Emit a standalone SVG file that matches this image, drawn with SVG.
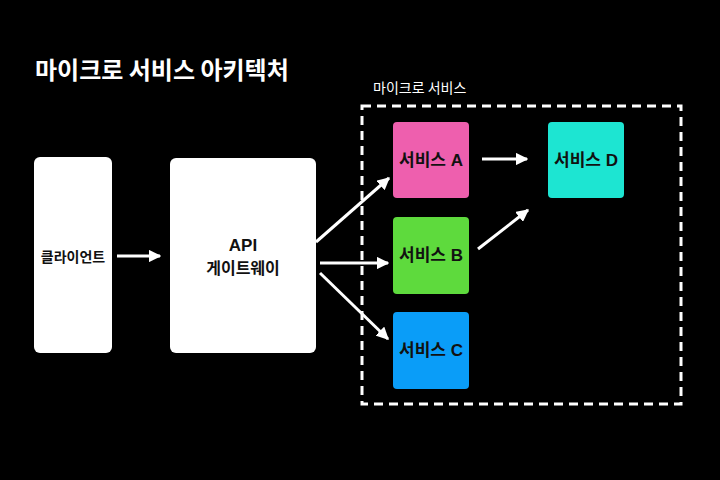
<svg xmlns="http://www.w3.org/2000/svg" width="720" height="480" viewBox="0 0 720 480">
<defs>
<marker id="ah" viewBox="0 0 10 10" refX="9" refY="5" markerWidth="4.2" markerHeight="4.2" orient="auto" markerUnits="strokeWidth">
<path d="M0,0 L10,5 L0,10 Z" fill="#fff"/>
</marker>
</defs>
<style>
text{font-family:"Liberation Sans","Noto Sans CJK KR",sans-serif;}
.lbl{font-size:17px;font-weight:bold;fill:#111;text-anchor:middle;dominant-baseline:central;}
.wbox{fill:#fff;}
.conn line{stroke:#fff;stroke-width:3;marker-end:url(#ah);}
</style>
<rect width="720" height="480" fill="#000"/>
<text x="35" y="79" font-size="24" font-weight="bold" fill="#fff" style="font-family:'Noto Sans CJK KR',sans-serif">마이크로 서비스 아키텍처</text>
<g id="boundary">
<rect x="362" y="106" width="319" height="298" fill="none" stroke="#fff" stroke-width="3" stroke-dasharray="9,6"/>
<text x="373" y="93" font-size="14" fill="#fff" style="font-family:'Noto Sans CJK KR',sans-serif">마이크로 서비스</text>
</g>
<g id="client">
<rect class="wbox" x="34" y="157" width="78" height="196" rx="6"/>
<text class="lbl" x="73" y="256" style="font-size:14px;font-family:'Noto Sans CJK KR',sans-serif">클라이언트</text>
</g>
<g id="gateway">
<rect class="wbox" x="170" y="158" width="146" height="195" rx="6"/>
<text class="lbl" x="243" y="245" style="font-size:17px">API</text>
<text class="lbl" x="243" y="267" style="font-size:16px;font-family:'Noto Sans CJK KR',sans-serif">게이트웨이</text>
</g>
<g id="serviceA">
<rect x="393" y="122" width="76" height="76" rx="4" fill="#EE5FAE"/>
<text class="lbl" x="431" y="160">서비스 A</text>
</g>
<g id="serviceB">
<rect x="393" y="217" width="76" height="77" rx="4" fill="#5EDA3D"/>
<text class="lbl" x="431" y="255">서비스 B</text>
</g>
<g id="serviceC">
<rect x="393" y="312" width="76" height="77" rx="4" fill="#0A9DF8"/>
<text class="lbl" x="431" y="350">서비스 C</text>
</g>
<g id="serviceD">
<rect x="548" y="122" width="76" height="76" rx="4" fill="#1DE5D2"/>
<text class="lbl" x="586" y="160">서비스 D</text>
</g>
<g class="conn" id="connectors">
<line x1="117" y1="256" x2="160" y2="256"/>
<line x1="316" y1="242" x2="389" y2="178"/>
<line x1="320" y1="263" x2="388" y2="263"/>
<line x1="320" y1="273" x2="388" y2="339"/>
<line x1="482" y1="159" x2="527" y2="159"/>
<line x1="478" y1="249" x2="528" y2="210"/>
</g>
</svg>
